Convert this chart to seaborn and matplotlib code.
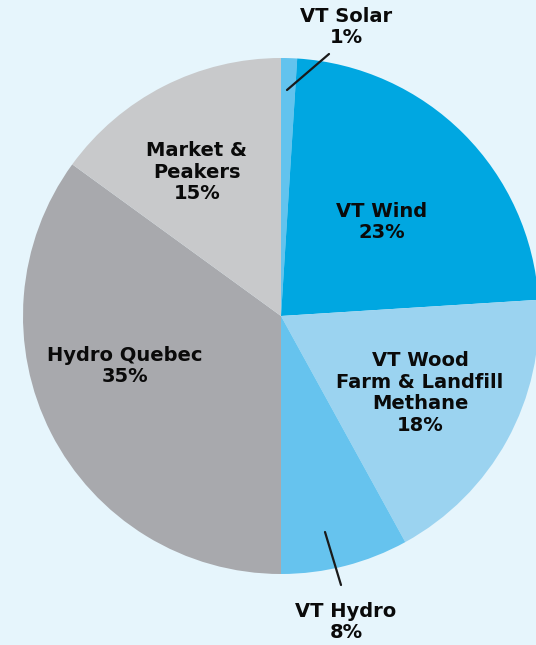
import matplotlib
matplotlib.use("Agg")
import matplotlib.pyplot as plt
import seaborn as sns

# energy sources, clockwise from the top
sources = ["VT Solar", "VT Wind", "VT Wood\nFarm & Landfill\nMethane", "VT Hydro",
           "Hydro Quebec", "Market &\nPeakers"]
shares = [1, 23, 18, 8, 35, 15]
colors = ["#62C3EE", "#00A7E1", "#9BD3F0", "#66C3EE", "#A8A9AD", "#C8C9CB"]

sns.set_style("white")
plt.rcParams['font.family'] = ['DejaVu Sans']

bg = "#E6F5FC"
fig = plt.figure(figsize=(5.36, 6.45), dpi=100, facecolor=bg)
ax = fig.add_axes([0, 0, 1, 1])
ax.set_facecolor(bg)

# pie centre and radius in pixel units (y measured from bottom)
cx, cy, r = 281, 645 - 316, 258
ax.pie(shares, colors=colors, startangle=90, counterclock=False,
       center=(cx, cy), radius=r, frame=True,
       wedgeprops=dict(linewidth=0))
ax.set_xlim(0, 536)
ax.set_ylim(0, 645)
ax.set_aspect("equal")
ax.axis("off")

#label positions (pixel coords from top)
label_pos = [(346, 27), (382, 222), (420, 393), (346, 622), (125, 366), (197, 172)]
txt = dict(fontsize=14, fontweight="bold", color="#0a0a0a", ha="center",
           va="center", linespacing=1.18)
for name, val, (x, y) in zip(sources, shares, label_pos):
    ax.text(x, 645 - y, f"{name}\n{val}%", **txt)

# leader lines for the small slices
ax.plot([287, 329], [645 - 90, 645 - 54], color="#1a1a1a", lw=1.6)
ax.plot([325, 341], [645 - 532, 645 - 585], color="#1a1a1a", lw=1.6)

fig.savefig("out.png", dpi=100, facecolor=bg)
